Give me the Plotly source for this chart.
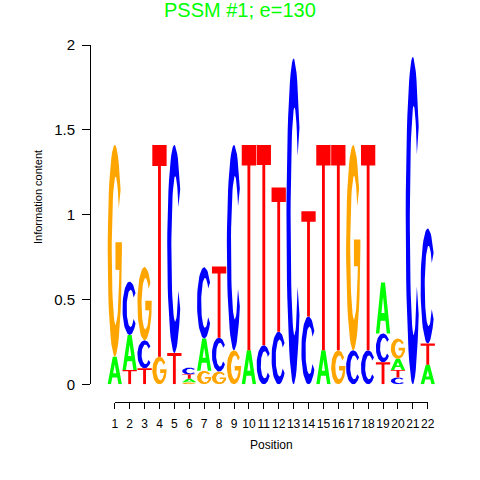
import numpy as np
import plotly.graph_objects as go

# information content (bits) per position
positions = list(range(1, 23))
a_bits = [0.163, 0.206, 0, 0, 0, 0.020, 0.190, 0, 0, 0.200, 0, 0,
          0, 0, 0.200, 0, 0, 0, 0.300, 0.065, 0, 0.115]
c_bits = [0, 0.314, 0.165, 0, 1.226, 0.040, 0.420, 0.200, 1.210, 0, 0.230, 0.310,
          1.920, 0.400, 0, 0, 0.200, 0.200, 0.170, 0.040, 1.930, 0.678]
g_bits = [1.248, 0, 0.432, 0.163, 0, 0.012, 0.080, 0.075, 0.200, 0, 0, 0,
          0, 0, 0, 0.200, 1.210, 0, 0, 0.120, 0, 0]
t_bits = [0, 0.085, 0.094, 1.248, 0.185, 0.026, 0, 0.420, 0, 1.210, 1.180, 0.850,
          0, 0.620, 1.210, 1.210, 0, 1.210, 0.130, 0.045, 0, 0.125]
y_ticks = [0, 0.5, 1, 1.5, 2]
y_ticktext = ["0", "0.5", "1", "1.5", "2"]

COLORS = {"A": "#00FF00", "C": "#0000FF", "G": "#FFA500", "T": "#FF0000"}
INK = "#000000"
W = H = 480


def px(x):
    return x / W


def py(y):
    return (H - y) / H


def _arc(cx, cy, rx, ry, a0, a1, n=48):
    t = np.radians(np.linspace(a0, a1, n))
    return list(cx + rx * np.cos(t)), list(cy + ry * np.sin(t))


def glyph(base):
    """Letter outline in the unit box."""
    if base == "A":
        xs = [0, 0.36, 0.5, 0.5, 0.39, 0.61, 0.5, 0.5, 0.64, 1, 0.76, 0.67, 0.33, 0.24, 0]
        ys = [0, 1, 1, 0.72, 0.40, 0.40, 0.72, 1, 1, 0, 0, 0.25, 0.25, 0, 0]
        return xs, ys
    if base == "T":
        xs = [0, 1, 1, 0.6, 0.6, 0.4, 0.4, 0, 0]
        ys = [1, 1, 0.9, 0.9, 0, 0, 0.9, 0.9, 1]
        return xs, ys
    if base == "C":
        ox, oy = _arc(0.5, 0.5, 0.5, 0.5, 35, 325)
        ix, iy = _arc(0.56, 0.5, 0.27, 0.35, 325, 35)
        return ox + ix + [ox[0]], oy + iy + [oy[0]]
    # G
    ox, oy = _arc(0.5, 0.5, 0.5, 0.5, 35, 360)
    ix, iy = _arc(0.56, 0.5, 0.27, 0.35, 345, 35)
    xs = ox + [1.0, 0.55, 0.55, 0.80] + ix + [ox[0]]
    ys = oy + [0.54, 0.54, 0.41, 0.41] + iy + [oy[0]]
    return xs, ys


bits = {"A": a_bits, "C": c_bits, "G": g_bits, "T": t_bits}
paths = {b: ([], []) for b in bits}
for i, pos in enumerate(positions):
    stack = sorted(((bits[b][i], b) for b in bits if bits[b][i] > 0))
    y0 = 0.0
    for h, b in stack:
        gx, gy = glyph(b)
        paths[b][0].extend([pos - 0.48 + 0.96 * u for u in gx] + [None])
        paths[b][1].extend([y0 + h * v for v in gy] + [None])
        y0 += h

fig = go.Figure()
for b, (xs, ys) in paths.items():
    fig.add_scatter(x=xs, y=ys, mode="lines", fill="toself", fillcolor=COLORS[b],
                    line=dict(width=0, color=COLORS[b]), showlegend=False,
                    hoverinfo="skip")
# carries the position axis (own subplot, so it keeps its own domain)
fig.add_scatter(x=[positions[0], positions[-1]], y=[0, 0], xaxis="x2", mode="markers",
                marker=dict(opacity=0), showlegend=False, hoverinfo="skip")

FONT = "Liberation Sans, Arial, Helvetica, sans-serif"
fig.update_layout(
    width=W, height=H, autosize=False,
    margin=dict(l=0, r=0, t=0, b=0, pad=0, autoexpand=False),
    paper_bgcolor="white", plot_bgcolor="rgba(0,0,0,0)",
    font=dict(family=FONT, color=INK),
    xaxis=dict(domain=[px(107.3), px(435.2)], range=[0.5, 22.5], visible=False,
               automargin=False),
    xaxis2=dict(domain=[px(114.8), px(427.7)], range=[1, 22],
                anchor="free", position=py(402), showline=True,
                linecolor=INK, linewidth=1, ticks="outside", ticklen=6,
                tickcolor=INK, tickvals=positions, tickangle=0, showgrid=False,
                zeroline=False, tickfont=dict(size=12), ticklabelstandoff=5,
                automargin=False),
    yaxis=dict(domain=[py(384.3), py(45)], range=[0, 2],
               anchor="free", position=px(90), showline=True, linecolor=INK,
               ticks="outside", ticklen=8, tickcolor=INK, tickvals=y_ticks,
               ticktext=y_ticktext, showgrid=False, zeroline=False,
               tickfont=dict(size=15), ticklabelstandoff=4, automargin=False),
    annotations=[
        dict(text="PSSM #1; e=130", x=px(240), y=py(10), xref="paper", yref="paper",
             yanchor="middle", showarrow=False, font=dict(size=20, color="#00FF00")),
        dict(text="Position", x=px(271), y=py(445), xref="paper", yref="paper",
             yanchor="middle", showarrow=False, font=dict(size=12)),
        dict(text="Information content", x=px(38), y=py(197), xref="paper",
             yref="paper", xanchor="center", yanchor="middle", showarrow=False,
             textangle=-90, font=dict(size=11)),
    ],
)
# drop the browser's default page margin so the 480px figure fills the window
fig.write_html("out.html", config={"displayModeBar": False},
               post_script="document.body.style.margin = '0';")
